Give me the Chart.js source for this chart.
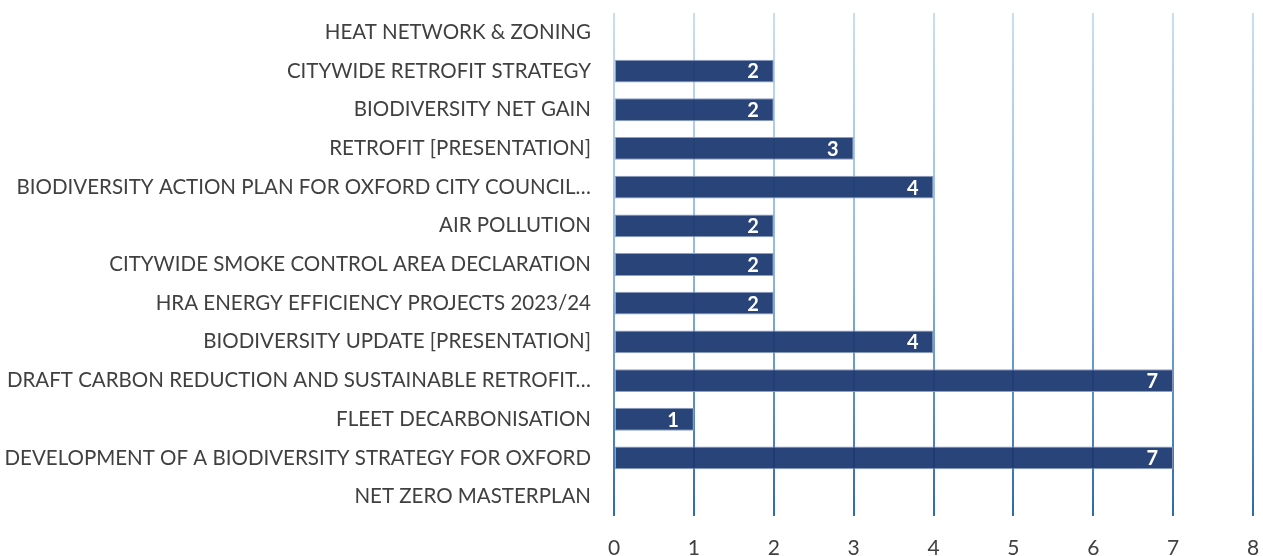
<!DOCTYPE html>
<html>
<head>
<meta charset="utf-8">
<script src="https://cdn.jsdelivr.net/npm/chart.js@4"></script>
<style>
  html, body { margin: 0; padding: 0; background: #fff; overflow: hidden; }
  #wrap { width: 1263px; height: 556px; }
  canvas { display: block; }
</style>
</head>
<body>
<div id="wrap"><canvas id="chart"></canvas></div>
<script>
const categories = [
  "HEAT NETWORK & ZONING",
  "CITYWIDE RETROFIT STRATEGY",
  "BIODIVERSITY NET GAIN",
  "RETROFIT [PRESENTATION]",
  "BIODIVERSITY ACTION PLAN FOR OXFORD CITY COUNCIL…",
  "AIR POLLUTION",
  "CITYWIDE SMOKE CONTROL AREA DECLARATION",
  "HRA ENERGY EFFICIENCY PROJECTS 2023/24",
  "BIODIVERSITY UPDATE [PRESENTATION]",
  "DRAFT CARBON REDUCTION AND SUSTAINABLE RETROFIT…",
  "FLEET DECARBONISATION",
  "DEVELOPMENT OF A BIODIVERSITY STRATEGY FOR OXFORD",
  "NET ZERO MASTERPLAN"
];
const counts = [null, 2, 2, 3, 4, 2, 2, 2, 4, 7, 1, 7, null];
const xTicks = [0, 1, 2, 3, 4, 5, 6, 7, 8];

const FONT = "Lato, 'Liberation Sans', sans-serif";

// Grid lines fade from light blue at the top to darker blue at the bottom
function gridGradient(ctx) {
  const chart = ctx.chart;
  const area = chart.chartArea;
  if (!area) return "#9dc3e6";
  const g = chart.ctx.createLinearGradient(0, area.top, 0, area.bottom);
  g.addColorStop(0, "#c9def2");
  g.addColorStop(0.5, "#8fb8e0");
  g.addColorStop(1, "#2d6aa8");
  return g;
}

// White value labels inside the end of each bar
const valueLabels = {
  id: "valueLabels",
  afterDatasetsDraw(chart) {
    const c = chart.ctx;
    const meta = chart.getDatasetMeta(0);
    c.save();
    c.fillStyle = "#ffffff";
    c.font = "bold 20px " + FONT;
    c.textAlign = "right";
    c.textBaseline = "middle";
    meta.data.forEach((bar, i) => {
      const v = counts[i];
      if (v === null) return;
      c.fillText(String(v), bar.x - 15, bar.y + 1);
    });
    c.restore();
  }
};

new Chart(document.getElementById("chart"), {
  type: "bar",
  data: {
    labels: categories,
    datasets: [{
      data: counts,
      backgroundColor: "rgba(28, 56, 112, 0.94)",
      borderColor: "rgba(140, 160, 195, 1)",
      borderWidth: 1,
      borderSkipped: false,
      categoryPercentage: 0.62,
      barPercentage: 0.95
    }]
  },
  options: {
    indexAxis: "y",
    responsive: true,
    maintainAspectRatio: false,
    animation: false,
    layout: { padding: { top: 13, right: 10, left: 0, bottom: 0 } },
    plugins: {
      legend: { display: false },
      tooltip: { enabled: false }
    },
    scales: {
      x: {
        min: 0,
        max: 8,
        afterBuildTicks: (scale) => { scale.ticks = xTicks.map(v => ({ value: v })); },
        afterFit: (scale) => {
          scale.height = 40;
          scale.paddingLeft = 0;
          scale.paddingRight = 0;
        },
        grid: { color: gridGradient, lineWidth: 2, drawTicks: false },
        border: { display: false },
        ticks: {
          color: "#404040",
          font: { family: FONT, size: 21 },
          padding: 20,
          maxRotation: 0,
          minRotation: 0
        }
      },
      y: {
        grid: { display: false, drawTicks: false },
        border: { display: false },
        afterFit: (scale) => {
          scale.width = 614;
          scale.paddingTop = 0;
          scale.paddingBottom = 0;
        },
        ticks: {
          color: "#404040",
          font: { family: FONT, size: 20.5 },
          padding: 23,
          autoSkip: false
        }
      }
    }
  },
  plugins: [valueLabels]
});
</script>
</body>
</html>
